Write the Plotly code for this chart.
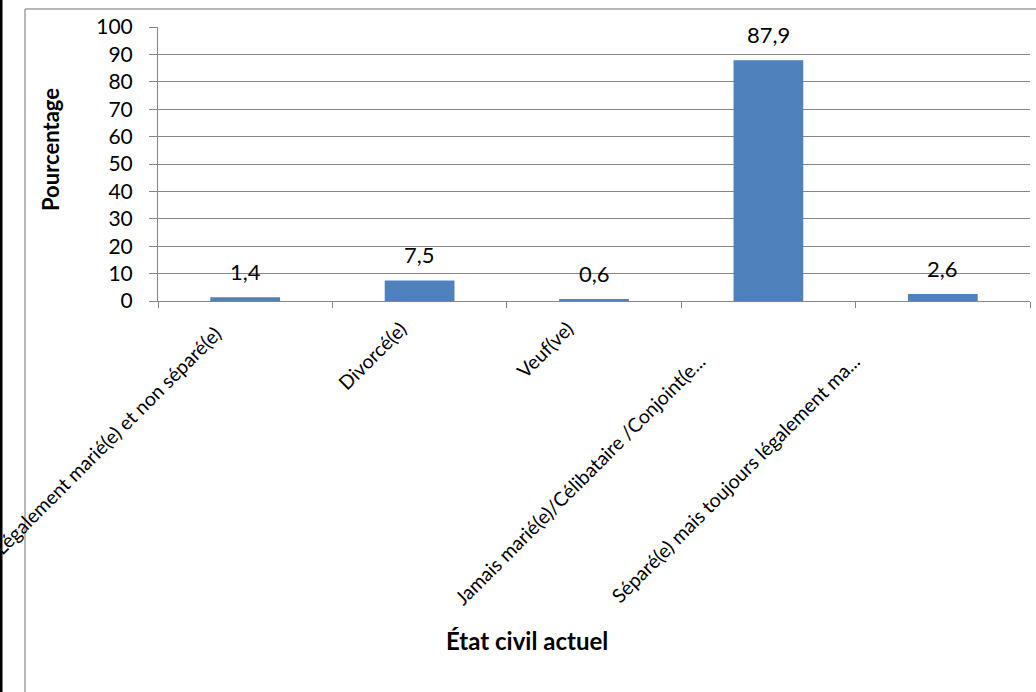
import plotly.graph_objects as go

categories = [
    "Légalement marié(e) et non séparé(e)",
    "Divorcé(e)",
    "Veuf(ve)",
    "Jamais marié(e)/Célibataire /Conjoint(e...",
    "Séparé(e) mais toujours légalement ma...",
]
values = [1.4, 7.5, 0.6, 87.9, 2.6]
value_labels = ["1,4", "7,5", "0,6", "87,9", "2,6"]
y_ticks = [0, 10, 20, 30, 40, 50, 60, 70, 80, 90, 100]
x_title = "État civil actuel"
y_title = "Pourcentage"

# label placement tweaks (pixels) to mimic the original layout
label_dx = [-17, -6, -14, -56, -76]
label_dy = [18, 13, 13, 46, 46]

W, H = 1036, 692
ml, mr, mt, mb = 158, 6, 27, 391
pw = W - ml - mr
ph = H - mt - mb

def px_x(p):
    return (p - ml) / pw

def px_y(p):
    return (H - mb - p) / ph

FONT = "Lato, 'Open Sans', sans-serif"
GRID = "#868686"
BAR = "#4F81BD"

fig = go.Figure()
fig.add_trace(go.Bar(
    x=categories, y=values, marker=dict(color=BAR, line=dict(width=0)),
    width=0.4, hoverinfo="skip",
))

for c, v, t in zip(categories, values, value_labels):
    fig.add_annotation(x=c, y=v, text=t, showarrow=False, yanchor="bottom",
                       yshift=10, font=dict(family=FONT, size=22, color="#000000"))

for c, dx, dy in zip(categories, label_dx, label_dy):
    fig.add_annotation(x=c, y=0, xref="x", yref="y", text=c, showarrow=False,
                       textangle=-45, xanchor="right", yanchor="top",
                       xshift=dx, yshift=-dy,
                       font=dict(family=FONT, size=19.5, color="#000000"))

fig.add_annotation(x=px_x(527), y=px_y(640), xref="paper", yref="paper",
                   text="<b>" + x_title + "</b>", showarrow=False,
                   xanchor="center", yanchor="middle",
                   font=dict(family=FONT, size=24, color="#000000"))
fig.add_annotation(x=px_x(50), y=px_y(150), xref="paper", yref="paper",
                   text="<b>" + y_title + "</b>", showarrow=False, textangle=-90,
                   xanchor="center", yanchor="middle",
                   font=dict(family=FONT, size=22, color="#000000"))

fig.update_layout(
    width=W, height=H,
    margin=dict(l=ml, r=mr, t=mt, b=mb, autoexpand=False),
    paper_bgcolor="white", plot_bgcolor="white",
    showlegend=False,
    font=dict(family=FONT, size=20, color="#000000"),
    xaxis=dict(
        type="category", categoryorder="array", categoryarray=categories,
        range=[-0.5, len(categories) - 0.5],
        ticks="outside", tickson="boundaries",
        ticklen=6, tickcolor=GRID, showline=True, linecolor=GRID, linewidth=1,
        showgrid=False, showticklabels=False, automargin=False,
    ),
    yaxis=dict(
        range=[0, 100], tickvals=y_ticks, ticks="outside", ticklen=8,
        tickcolor=GRID, showline=True, linecolor=GRID, linewidth=1,
        showgrid=True, gridcolor=GRID, gridwidth=1, zeroline=False,
        tickfont=dict(family=FONT, size=21, color="#000000"),
        ticklabelstandoff=12,
        automargin=False,
    ),
)

# chart frame lines and left dark edge
fig.add_shape(type="line", xref="paper", yref="paper",
              x0=px_x(25), x1=px_x(W + 5), y0=px_y(9), y1=px_y(9),
              line=dict(color="#A0A0A0", width=1.5))
fig.add_shape(type="line", xref="paper", yref="paper",
              x0=px_x(25), x1=px_x(25), y0=px_y(9), y1=px_y(H + 5),
              line=dict(color="#A0A0A0", width=1.5))
fig.add_shape(type="rect", xref="paper", yref="paper",
              x0=px_x(0), x1=px_x(2.5), y0=px_y(0), y1=px_y(H),
              fillcolor="#000000", line=dict(width=0))

fig.write_html("out.html",
               config={"displayModeBar": False},
               post_script="document.body.style.margin='0';"
                           "document.body.style.overflow='hidden';")
